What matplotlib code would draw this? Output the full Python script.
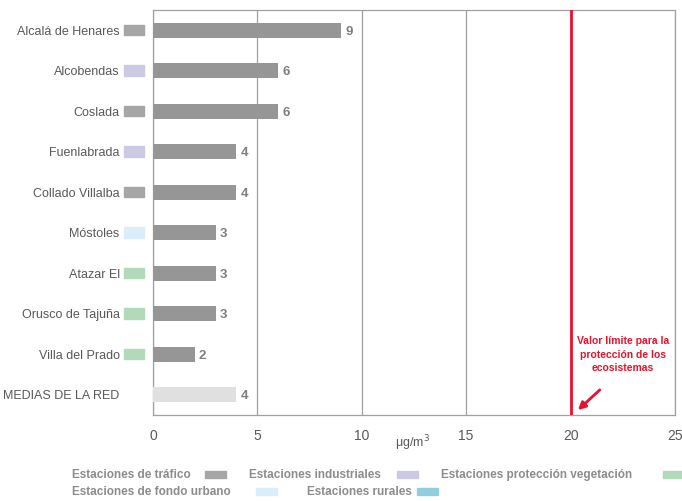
import matplotlib.pyplot as plt
from matplotlib.patches import Rectangle
import matplotlib.transforms as mtransforms

plt.rcParams['font.family'] = ['Liberation Sans', 'DejaVu Sans']

# data
estaciones = ["Alcalá de Henares", "Alcobendas", "Coslada", "Fuenlabrada",
              "Collado Villalba", "Móstoles", "Atazar El", "Orusco de Tajuña",
              "Villa del Prado", "MEDIAS DE LA RED"]
valores = [9, 6, 6, 4, 4, 3, 3, 3, 2, 4]
tipos = ["trafico", "industrial", "trafico", "industrial", "trafico",
         "urbano", "vegetacion", "vegetacion", "vegetacion", None]
limite = 20

tipo_labels = {"trafico": "Estaciones de tráfico",
               "industrial": "Estaciones industriales",
               "vegetacion": "Estaciones protección vegetación",
               "urbano": "Estaciones de fondo urbano",
               "rural": "Estaciones rurales"}
tipo_colors = {"trafico": "#a6a6a6", "industrial": "#ccc9e3",
               "vegetacion": "#b3d9bb", "urbano": "#daedf8",
               "rural": "#92cddc"}

txt_gray = "#595959"
red = "#e8112d"

fig = plt.figure(figsize=(6.82, 5.01), dpi=100)
ax = fig.add_axes([0.2243, 0.1717, 0.7654, 0.8086])

ypos = list(range(len(estaciones)))
bar_colors = ["#969696"] * (len(valores) - 1) + ["#e0e0e0"]
ax.barh(ypos, valores, height=0.37, color=bar_colors, zorder=3)
for y, v in zip(ypos, valores):
    ax.text(v + 0.2, y, str(v), va="center_baseline", ha="left", fontsize=9.5,
            fontweight="bold", color="#7f7f7f")

ax.set_xlim(0, 25)
ax.set_ylim(len(estaciones) - 0.5, -0.5)
ax.set_xticks([0, 5, 10, 15, 20, 25])
ax.tick_params(axis="x", length=0, pad=10, labelsize=10, labelcolor=txt_gray)
ax.set_yticks(ypos)
ax.set_yticklabels(estaciones)
ax.tick_params(axis="y", length=0, pad=24, labelsize=9, labelcolor=txt_gray)
ax.grid(axis="x", color="#a0a0a0", linewidth=0.9, zorder=0)
for s in ax.spines.values():
    s.set_color("#a0a0a0")
    s.set_linewidth(0.9)

# limit line and its note
ax.axvline(limite, color=red, linewidth=2, zorder=4)
ax.text(limite + 2.5, 7.55, "Valor límite para la\nprotección de los\necosistemas",
        ha="center", va="top", fontsize=7.5, fontweight="bold", color=red,
        linespacing=1.45)
ax.annotate("", xy=(limite + 0.35, 9.38), xytext=(limite + 1.4, 8.88),
            arrowprops=dict(arrowstyle="-|>", color=red, lw=2,
                            mutation_scale=11, shrinkA=0, shrinkB=0))

ax.text(12.45, -0.045, "μg/m$^{3}$", transform=ax.get_xaxis_transform(),
        ha="center", va="top", fontsize=9, color=txt_gray)

# station type markers next to the labels
mk_trans = mtransforms.blended_transform_factory(ax.transAxes, ax.transData)
for y, t in zip(ypos, tipos):
    if t is None:
        continue
    ax.add_patch(Rectangle((-0.055, y - 0.13), 0.037, 0.26, transform=mk_trans,
                           color=tipo_colors[t], clip_on=False, zorder=5))

# legend drawn as flowing text + swatch (pixel positions in the figure)
W, H = 682, 501
leg_items = [("trafico", 72, 205, 478), ("industrial", 249, 397, 478),
             ("vegetacion", 441, 663, 478), ("urbano", 72, 256, 495),
             ("rural", 307, 417, 495)]
for key, tx, px, base in leg_items:
    fig.text(tx / W, 1 - base / H, tipo_labels[key], ha="left", va="baseline",
             fontsize=8.5, fontweight="bold", color="#8c8c8c")
    fig.patches.append(Rectangle((px / W, 1 - (base - 0.5) / H), 21 / W, 7 / H,
                                 transform=fig.transFigure, color=tipo_colors[key]))

fig.savefig("out.png", dpi=100)
